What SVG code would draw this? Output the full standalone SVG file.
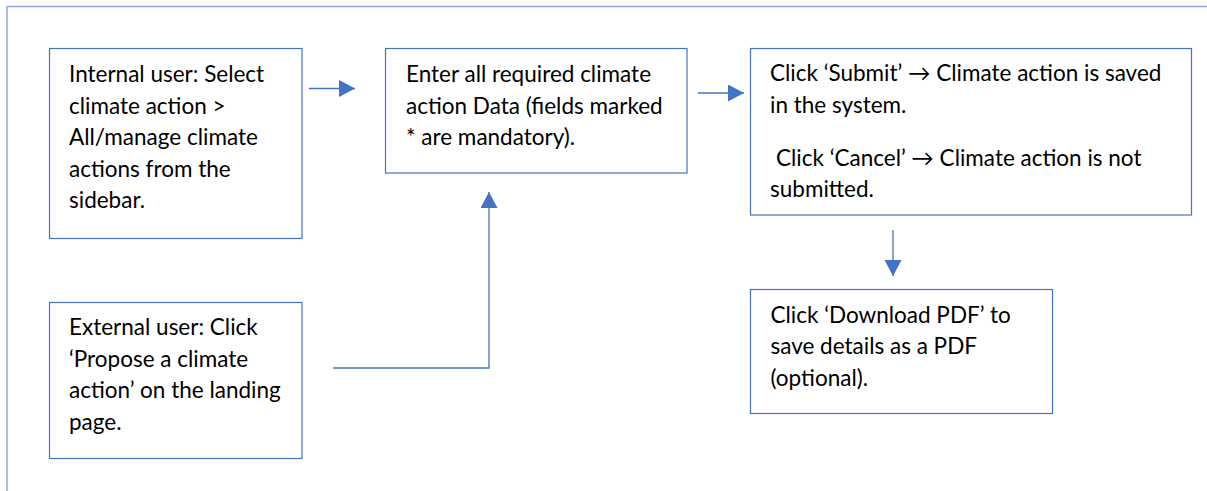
<svg xmlns="http://www.w3.org/2000/svg" width="1207" height="491" viewBox="0 0 1207 491">
<style>
.box{fill:#fff;stroke:#4472C4;stroke-width:1.2}
.t{font-family:Lato,"Open Sans","Liberation Sans",sans-serif;font-size:22.5px;fill:#000}
.c{stroke:#4472C4;stroke-width:1.3;fill:none}
.frame{stroke:#8FAADC;stroke-width:1.5;fill:none}
</style>
<defs>
<marker id="ah" markerUnits="userSpaceOnUse" markerWidth="16" markerHeight="17" refX="16" refY="8.5" orient="auto">
<path d="M0,0 L16,8.5 L0,17 Z" fill="#4472C4"/>
</marker>
</defs>
<path class="frame" d="M7,491 V6.5 H1207"/>
<g id="n1">
<rect class="box" x="49.5" y="48.5" width="252.5" height="190"/>
<text class="t"><tspan x="69" y="82">Internal user: Select</tspan><tspan x="69" y="113.5">climate action &gt;</tspan><tspan x="69" y="145">All/manage climate</tspan><tspan x="69" y="176.5">actions from the</tspan><tspan x="69" y="208">sidebar.</tspan></text>
</g>
<g id="n2">
<rect class="box" x="385.5" y="48.5" width="301.5" height="124.5"/>
<text class="t"><tspan x="406" y="82">Enter all required climate</tspan><tspan x="406" y="113.5">action Data (fields marked</tspan><tspan x="406" y="145">* are mandatory).</tspan></text>
</g>
<g id="n3">
<rect class="box" x="750.5" y="48.5" width="441" height="166.5"/>
<text class="t"><tspan x="770" y="81">Click ‘Submit’ → Climate action is saved</tspan><tspan x="770" y="112.5">in the system.</tspan><tspan x="776" y="165.5">Click ‘Cancel’ → Climate action is not</tspan><tspan x="770" y="197">submitted.</tspan></text>
</g>
<g id="n4">
<rect class="box" x="750.5" y="289.5" width="302" height="124"/>
<text class="t"><tspan x="770.5" y="323">Click ‘Download PDF’ to</tspan><tspan x="770.5" y="354">save details as a PDF</tspan><tspan x="770.5" y="386">(optional).</tspan></text>
</g>
<g id="n5">
<rect class="box" x="49.5" y="302.5" width="252.5" height="156"/>
<text class="t"><tspan x="69" y="335">External user: Click</tspan><tspan x="69" y="366.5">‘Propose a climate</tspan><tspan x="69" y="398">action’ on the landing</tspan><tspan x="69" y="429.5">page.</tspan></text>
</g>
<g id="connectors">
<path class="c" d="M309,88.5 H355" marker-end="url(#ah)"/>
<path class="c" d="M698,93 H744" marker-end="url(#ah)"/>
<path class="c" d="M333,368 H489 V192" marker-end="url(#ah)"/>
<path class="c" d="M893,230 V276" marker-end="url(#ah)"/>
</g>
</svg>
